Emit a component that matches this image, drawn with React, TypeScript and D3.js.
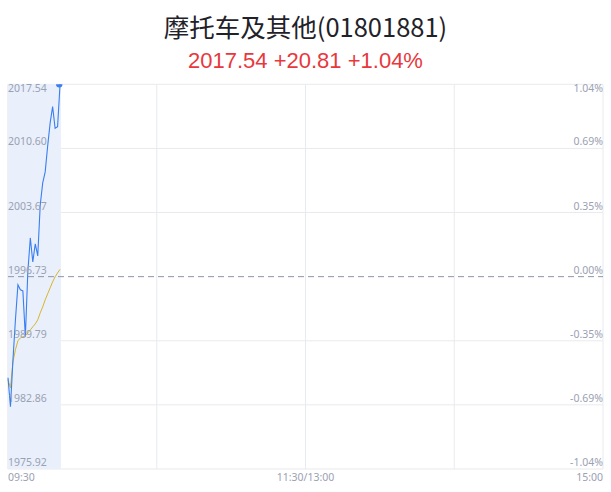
import React, { useEffect, useRef } from 'react';
import * as d3 from 'd3';

const title = '摩托车及其他(01801881)';
const subtitle = '2017.54 +20.81 +1.04%';

const prevClose = 1996.73;
const priceTicks = [2017.54, 2010.6, 2003.67, 1996.73, 1989.79, 1982.86, 1975.92];
const pctTicks = ['1.04%', '0.69%', '0.35%', '0.00%', '-0.35%', '-0.69%', '-1.04%'];
const timeTicks = ['09:30', '11:30/13:00', '15:00'];

const times = [
  '09:30', '09:31', '09:32', '09:33', '09:34', '09:35', '09:36', '09:37', '09:38', '09:39', '09:40',
  '09:41', '09:42', '09:43', '09:44', '09:45', '09:46', '09:47', '09:48', '09:49', '09:50', '09:51',
];
const prices = [
  1985.79, 1982.65, 1987.74, 1992.06, 1995.84, 1995.3, 1995.19, 1990.22, 1997.26, 2000.92, 1998.33,
  2000.28, 1998.98, 2004.49, 2006.87, 2008.06, 2010.87, 2013.36, 2015.12, 2012.78, 2012.96, 2017.54,
];
const avgPrices = [
  1985.57, 1984.71, 1987.52, 1988.82, 1989.79, 1990.11, 1990.22, 1990.33, 1990.65, 1990.97, 1991.3,
  1991.62, 1992.06, 1992.81, 1993.46, 1994.22, 1994.87, 1995.52, 1996.17, 1996.71, 1997.14, 1997.52,
];

const W = 611;
const H = 492;
const margin = { top: 84.3, right: 8, bottom: 23, left: 8 };

// minutes since open, lunch break removed
const toMinute = (t: string) => {
  const [h, m] = t.split(':').map(Number);
  const mins = h * 60 + m;
  return mins <= 690 ? mins - 570 : mins - 660;
};

const App: React.FC = () => {
  const ref = useRef<SVGSVGElement | null>(null);

  useEffect(() => {
    if (!ref.current) return;
    const svg = d3.select(ref.current);
    svg.selectAll('*').remove();

    const x = d3.scaleLinear().domain([0, 240]).range([margin.left, W - margin.right]);
    const y = d3.scaleLinear()
      .domain([priceTicks[priceTicks.length - 1], priceTicks[0]])
      .range([H - margin.bottom, margin.top]);

    const font = '"Noto Sans", "DejaVu Sans", sans-serif';
    const gridColor = '#e9eaef';
    const labelColor = '#9aa1b3';

    svg.append('defs').append('clipPath').attr('id', 'plot-clip')
      .append('rect')
      .attr('x', 0).attr('y', margin.top)
      .attr('width', W).attr('height', H - margin.top - margin.bottom);

    svg.append('text')
      .attr('x', W / 2).attr('y', 37)
      .attr('text-anchor', 'middle')
      .style('font-family', '"Noto Sans CJK SC", sans-serif')
      .style('font-size', '25.5px')
      .attr('fill', '#1f2229')
      .text(title);

    svg.append('text')
      .attr('x', W / 2).attr('y', 68)
      .attr('text-anchor', 'middle')
      .style('font-family', '"Liberation Sans", Arial, sans-serif')
      .style('font-size', '22px')
      .attr('fill', '#e8383d')
      .text(subtitle);

    // grid
    const grid = svg.append('g');
    priceTicks.forEach((p, i) => {
      if (p === prevClose) return;
      grid.append('line')
        .attr('x1', margin.left).attr('x2', W - margin.right)
        .attr('y1', y(p)).attr('y2', y(p))
        .attr('stroke', gridColor).attr('stroke-width', i === priceTicks.length - 1 ? 1.2 : 1);
    });
    [0, 60, 120, 180, 240].forEach(m => {
      grid.append('line')
        .attr('x1', x(m)).attr('x2', x(m))
        .attr('y1', margin.top).attr('y2', H - margin.bottom)
        .attr('stroke', m === 0 ? '#dfe1e8' : gridColor);
    });

    const pts = times.map((t, i) => ({ m: toMinute(t), p: prices[i], a: avgPrices[i] }));

    const area = d3.area<typeof pts[0]>()
      .x(d => x(d.m))
      .y0(H - margin.bottom)
      .y1(margin.top);
    svg.append('path')
      .datum([{ ...pts[0] }, { ...pts[pts.length - 1], m: pts[pts.length - 1].m + 0.35 }])
      .attr('d', area)
      .attr('fill', '#e9f0fc');

    svg.append('line')
      .attr('x1', margin.left).attr('x2', W - margin.right)
      .attr('y1', y(prevClose)).attr('y2', y(prevClose))
      .attr('stroke', '#8e95a8').attr('stroke-dasharray', '6,4');

    svg.append('path')
      .datum(pts)
      .attr('d', d3.line<typeof pts[0]>().x(d => x(d.m)).y(d => y(d.a)))
      .attr('fill', 'none')
      .attr('stroke', '#d6b52c')
      .attr('stroke-width', 1);

    svg.append('path')
      .datum(pts)
      .attr('d', d3.line<typeof pts[0]>().x(d => x(d.m)).y(d => y(d.p)))
      .attr('fill', 'none')
      .attr('stroke', '#3a7ef0')
      .attr('stroke-width', 1.1);

    const last = pts[pts.length - 1];
    svg.append('circle')
      .attr('clip-path', 'url(#plot-clip)')
      .attr('cx', x(last.m) - 0.8).attr('cy', y(last.p))
      .attr('r', 3.2)
      .attr('fill', '#3a7ef0');

    // y labels
    priceTicks.forEach((p, i) => {
      const yy = i === 0 ? y(p) + 8 : y(p) - 3;
      svg.append('text')
        .attr('x', margin.left).attr('y', yy)
        .style('font-family', font).style('font-size', '10.5px')
        .attr('fill', labelColor)
        .text(p.toFixed(2));
      svg.append('text')
        .attr('x', W - margin.right).attr('y', yy)
        .attr('text-anchor', 'end')
        .style('font-family', font).style('font-size', '10.5px')
        .attr('fill', labelColor)
        .text(pctTicks[i]);
    });

    // x labels
    const anchors = ['start', 'middle', 'end'];
    [0, 120, 240].forEach((m, i) => {
      svg.append('text')
        .attr('x', x(m)).attr('y', H - margin.bottom + 12)
        .attr('text-anchor', anchors[i])
        .style('font-family', font).style('font-size', '10.5px')
        .attr('fill', labelColor)
        .text(timeTicks[i]);
    });
  }, []);

  return (
    <svg ref={ref} width={W} height={H}
      style={{ position: 'absolute', left: 0, top: 0, background: '#fff' }} />
  );
};

export default App;
